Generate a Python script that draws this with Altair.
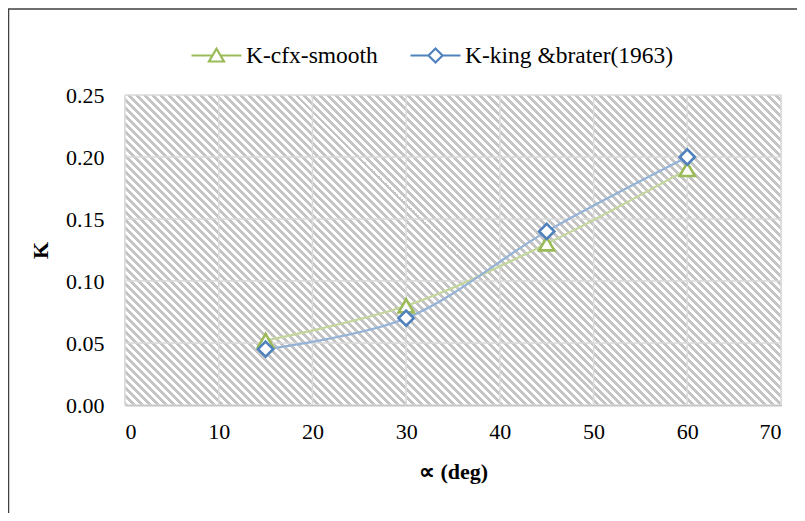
import math
import altair as alt
import pandas as pd

# ---------------- data ----------------
angles = [15, 30, 45, 60]
k_cfx = [0.052, 0.080, 0.130, 0.190]
k_king = [0.045, 0.070, 0.140, 0.200]
series_names = ["K-cfx-smooth", "K-king &brater(1963)"]
x_ticks = [0, 10, 20, 30, 40, 50, 60, 70]
y_ticks = [0.00, 0.05, 0.10, 0.15, 0.20, 0.25]
x_title = "\u221d (deg)"
y_title = "K"

# ---------------- styling ----------------
W, H = 656, 310
FONT = "Liberation Serif, Times New Roman, serif"
marker_colors = ["#9BBB59", "#4F81BD"]
line_colors = ["#C3D69B", "#95B3D7"]
legend_paths = [
    "M-1,0H-0.16M0.16,0H1M0,-0.27L0.3,0.24L-0.3,0.24Z",
    "M-1,0H-0.28M0.28,0H1M0,-0.28L0.28,0L0,0.28L-0.28,0Z",
]

rows = []
for a, v in zip(angles, k_cfx):
    rows.append({"angle": a, "K": v, "series": series_names[0]})
for a, v in zip(angles, k_king):
    rows.append({"angle": a, "K": v, "series": series_names[1]})
df = pd.DataFrame(rows)

# hatch pattern as a striped linear gradient (45 degree stripes)
k = (W + H) / (W * W + H * H)
gx2, gy2 = k * W, 1 - k * H
perp_len = (W + H) / math.sqrt(2)
period = 8.0 / math.sqrt(2)
n = int(round(perp_len / period))
stripe_grey, stripe_white = "#c4c4c4", "#ffffff"
grey_frac = 0.5
stops = []
for i in range(n):
    a0 = i / n
    a1 = (i + grey_frac) / n
    a2 = (i + 1) / n
    stops += [
        alt.GradientStop(offset=a0, color=stripe_grey),
        alt.GradientStop(offset=a1, color=stripe_grey),
        alt.GradientStop(offset=a1, color=stripe_white),
        alt.GradientStop(offset=a2, color=stripe_white),
    ]
hatch = alt.LinearGradient(gradient="linear", stops=stops, x1=0, y1=1, x2=gx2, y2=gy2)

xscale = alt.Scale(domain=[x_ticks[0], x_ticks[-1]], nice=False, zero=False)
yscale = alt.Scale(domain=[y_ticks[0], y_ticks[-1]], nice=False, zero=False)

axis_common = dict(
    grid=False, ticks=False, tickSize=0, domainColor="#868686", domainWidth=1.5,
    labelFont=FONT, labelFontSize=22, labelColor="#000000",
    titleFont=FONT, titleFontSize=22, titleFontWeight="bold", titleColor="#000000",
)

bg_df = pd.DataFrame({"x0": [x_ticks[0]], "x1": [x_ticks[-1]], "y0": [y_ticks[0]], "y1": [y_ticks[-1]]})
bg = alt.Chart(bg_df).mark_rect(fill=hatch).encode(
    x=alt.X("x0:Q", scale=xscale, axis=alt.Axis(
        values=x_ticks, format="d", title=x_title, labelPadding=16,
        titleX=W / 2, titleY=66, titleBaseline="middle", **axis_common)),
    x2="x1:Q",
    y=alt.Y("y0:Q", scale=yscale, axis=alt.Axis(
        values=y_ticks, format=".2f", title=y_title, labelPadding=21,
        titleX=-85, titleY=H / 2, titleBaseline="middle", titleAngle=270, **axis_common)),
    y2="y1:Q",
)

xgrid = alt.Chart(pd.DataFrame({"v": x_ticks})).mark_rule(
    color="#dadada", strokeWidth=1.5).encode(x=alt.X("v:Q", scale=xscale))
ygrid = alt.Chart(pd.DataFrame({"v": y_ticks})).mark_rule(
    color="#dadada", strokeWidth=1.5).encode(y=alt.Y("v:Q", scale=yscale))

enc_x = alt.X("angle:Q", scale=xscale)
enc_y = alt.Y("K:Q", scale=yscale)

lines = alt.Chart(df).mark_line(interpolate="catmull-rom", strokeWidth=2.2).encode(
    x=enc_x, y=enc_y,
    color=alt.Color("series:N", scale=alt.Scale(domain=series_names, range=line_colors), legend=None),
)

pts_cfx = alt.Chart(df).transform_filter(alt.datum.series == series_names[0]).mark_point(
    shape="triangle-up", filled=True, fill="white", stroke=marker_colors[0],
    strokeWidth=2.6, size=230, opacity=1).encode(x=enc_x, y=enc_y)
pts_king = alt.Chart(df).transform_filter(alt.datum.series == series_names[1]).mark_point(
    shape="diamond", filled=True, fill="white", stroke=marker_colors[1],
    strokeWidth=2.6, size=230, opacity=1).encode(x=enc_x, y=enc_y)

leg = alt.Legend(
    title=None, orient="none", direction="horizontal", legendX=65, legendY=-66,
    labelFont=FONT, labelFontSize=23.5, labelColor="#000000", labelOffset=3, labelLimit=0,
    symbolSize=2500, symbolStrokeWidth=2.2, symbolOpacity=1, symbolFillColor="white",
    columnPadding=28, padding=0,
)
legend_layer = alt.Chart(df).mark_point(size=0, filled=True, fill="white").encode(
    x=enc_x, y=enc_y,
    stroke=alt.Stroke("series:N", scale=alt.Scale(domain=series_names, range=marker_colors), legend=leg),
    shape=alt.Shape("series:N", scale=alt.Scale(domain=series_names, range=legend_paths), legend=leg),
)

frame = alt.Chart(pd.DataFrame({"a": [0]})).mark_rect(
    fill=None, stroke="#404040", strokeWidth=1.5, clip=False).encode(
    x=alt.value(-116.5), x2=alt.value(720), y=alt.value(-86), y2=alt.value(460))

chart = alt.layer(bg, xgrid, ygrid, lines, pts_cfx, pts_king, legend_layer, frame).resolve_scale(
    shape="independent", stroke="independent"
).properties(
    width=W, height=H,
    autosize=alt.AutoSizeParams(type="none"),
    padding={"left": 117, "top": 87, "right": 16, "bottom": 108},
).configure_view(stroke=None).configure(background="white")

chart.save("out.html", embed_options={"renderer": "svg", "actions": False})
